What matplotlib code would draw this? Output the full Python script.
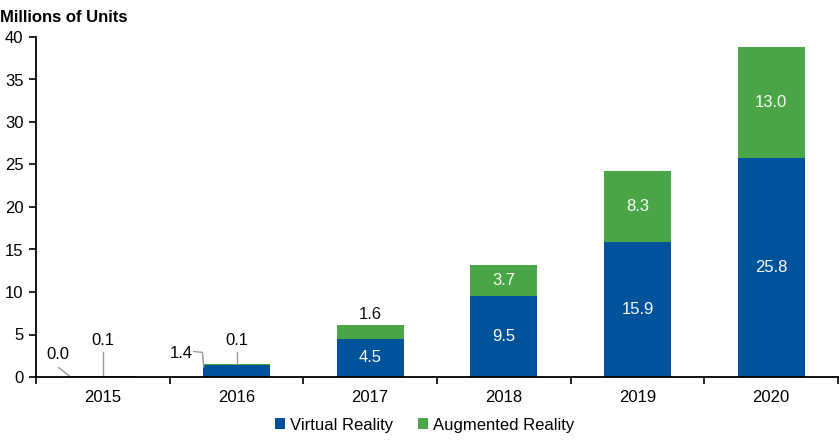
import matplotlib.pyplot as plt
import numpy as np

years = ['2015', '2016', '2017', '2018', '2019', '2020']
vr = [0.0, 1.4, 4.5, 9.5, 15.9, 25.8]
ar = [0.1, 0.1, 1.6, 3.7, 8.3, 13.0]

blue = '#00529B'
green = '#4AA546'

plt.rcParams['font.family'] = ['Liberation Sans', 'DejaVu Sans']
fs = 12

fig = plt.figure(figsize=(8.4, 4.4), dpi=100)
ax = fig.add_axes([36/840, 63/440, 802/840, 340/440])

x = np.arange(len(years))
ax.bar(x, vr, 0.5, color=blue, label='Virtual Reality')
ax.bar(x, ar, 0.5, bottom=vr, color=green, label='Augmented Reality')

# labels inside the big bars
for i in range(2, 6):
    ax.text(x[i], vr[i] / 2, f'{vr[i]:.1f}', color='white', ha='center', va='center', fontsize=fs)
    if i == 2:
        ax.text(x[i], vr[i] + ar[i] + 0.4, f'{ar[i]:.1f}', color='#111111', ha='center', va='bottom', fontsize=fs)
    else:
        ax.text(x[i], vr[i] + ar[i] / 2, f'{ar[i]:.1f}', color='white', ha='center', va='center', fontsize=fs)

# small values with leader lines
lc = '#999999'
ax.plot([-0.33, -0.24], [1.1, 0.0], color=lc, lw=1)
ax.text(-0.34, 2.6, f'{vr[0]:.1f}', ha='center', va='center', fontsize=fs)
ax.plot([0, 0], [0.0, 3.0], color=lc, lw=1)
ax.text(0, 4.3, f'{ar[0]:.1f}', ha='center', va='center', fontsize=fs)
ax.plot([0.68, 0.745, 0.755], [3.0, 2.9, 1.2], color=lc, lw=1)
ax.text(0.59, 2.8, f'{vr[1]:.1f}', ha='center', va='center', fontsize=fs)
ax.plot([1, 1], [1.5, 3.0], color=lc, lw=1)
ax.text(1, 4.3, f'{ar[1]:.1f}', ha='center', va='center', fontsize=fs)

ax.set_xlim(-0.5, 5.5)
ax.set_ylim(0, 40)
ax.set_yticks(range(0, 41, 5))
ax.set_xticks(x)
ax.set_xticklabels(years)
ax.set_xticks(np.arange(-0.5, 5.6, 1), minor=True)
ax.tick_params(axis='x', which='major', length=0, pad=9, labelsize=fs)
ax.tick_params(axis='x', which='minor', length=5, direction='out', width=1.2)
ax.tick_params(axis='y', length=5, labelsize=fs, pad=4, width=1.2)
for s in ['top', 'right']:
    ax.spines[s].set_visible(False)
for s in ['left', 'bottom']:
    ax.spines[s].set_linewidth(1.3)

fig.text(0.0, 0.978, 'Millions of Units', fontsize=fs, fontweight='bold', va='top', ha='left')

ax.legend(loc='upper center', bbox_to_anchor=(0.485, -0.075), ncol=2, frameon=False,
          fontsize=fs, handlelength=0.6, handleheight=0.6, handletextpad=0.3, columnspacing=1.5)

fig.savefig('out.png')
